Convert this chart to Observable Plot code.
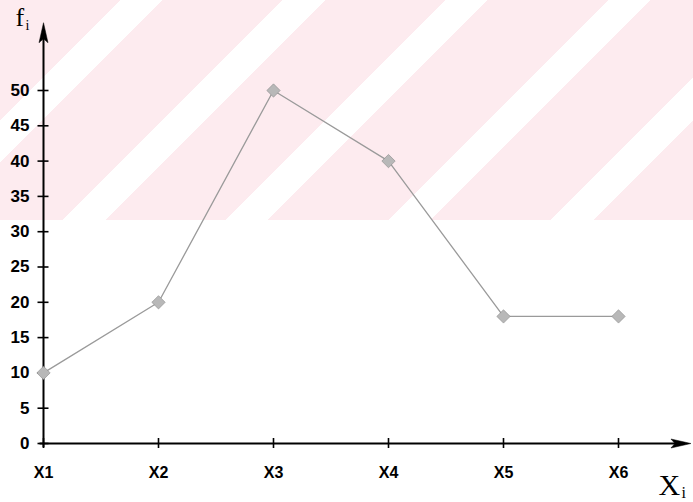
<!DOCTYPE html>
<html>
<head>
<meta charset="utf-8">
<script src="https://cdn.jsdelivr.net/npm/d3@7"></script>
<script src="https://cdn.jsdelivr.net/npm/@observablehq/plot@0.6"></script>
<style>
  html, body { margin: 0; padding: 0; background: #fff; }
  #wrap { position: relative; width: 693px; height: 502px; overflow: hidden; }
  #wm { position: absolute; left: 0; top: 0; width: 693px; height: 220px;
        background: repeating-linear-gradient(135deg, #fdebef 0 85px, #ffffff 85px 115px); }
  #chart { position: absolute; left: 0; top: 0; }
</style>
</head>
<body>
<div id="wrap"><div id="wm"></div><div id="chart"></div></div>
<script>
// Data
const categories = ["X1", "X2", "X3", "X4", "X5", "X6"];
const frequencies = [10, 20, 50, 40, 18, 18];
const yTicks = [0, 5, 10, 15, 20, 25, 30, 35, 40, 45, 50];

const data = categories.map((c, k) => ({i: k + 1, label: c, f: frequencies[k]}));

// axis extents (decoration: arrows beyond last tick)
const yAxisEnd = 59.6;
const xAxisEnd = 6.63;

const arrowHead = {
  draw(context) {
    context.moveTo(0, 0);
    context.lineTo(4.5, 20);
    context.lineTo(0, 16);
    context.lineTo(-4.5, 20);
    context.closePath();
  }
};

const chart = Plot.plot({
  width: 693,
  height: 502,
  marginLeft: 43,
  marginRight: 75,
  marginTop: 90,
  marginBottom: 59,
  style: {background: "transparent", overflow: "visible"},
  x: {domain: [1, 6], axis: null},
  y: {domain: [0, 50], axis: null},
  marks: [
    // axis lines
    Plot.ruleX([1], {y1: -0.6, y2: yAxisEnd - 1, stroke: "black", strokeWidth: 2}),
    Plot.ruleY([0], {x1: 0.97, x2: xAxisEnd - 0.05, stroke: "black", strokeWidth: 2}),
    Plot.dot([{x: 1, y: yAxisEnd}], {x: "x", y: "y", symbol: arrowHead, fill: "black", stroke: "black", strokeWidth: 0.5, r: 5}),
    Plot.dot([{x: xAxisEnd, y: 0}], {x: "x", y: "y", symbol: arrowHead, fill: "black", stroke: "black", strokeWidth: 0.5, r: 5, rotate: 90}),
    // y axis ticks crossing the axis line
    Plot.axisY({
      ticks: yTicks, tickSize: 11, dx: 5.5, tickPadding: 8.5,
      tickFormat: d => String(d), stroke: "black", strokeWidth: 1.6,
      fontFamily: "Liberation Sans, Arial, sans-serif", fontWeight: "bold", fontSize: 17, fill: "black"
    }),
    // x axis ticks crossing the axis line
    Plot.axisX({
      ticks: data.map(d => d.i), tickSize: 10, dy: -5, tickPadding: 18,
      tickFormat: d => categories[d - 1], stroke: "black", strokeWidth: 1.6,
      fontFamily: "Liberation Sans, Arial, sans-serif", fontWeight: "bold", fontSize: 16, fill: "black"
    }),
    // polygon
    Plot.line(data, {x: "i", y: "f", stroke: "#9a9a9a", strokeWidth: 1.3}),
    Plot.dot(data, {x: "i", y: "f", symbol: "diamond2", r: 6, fill: "#b8b8b8", stroke: "#8a8a8a", strokeWidth: 0.6}),
    // axis titles
    Plot.text(["f"], {frameAnchor: "top-left", dx: -28, dy: -73, textAnchor: "start", lineAnchor: "middle",
      fontFamily: "Liberation Serif, Times New Roman, serif", fontSize: 26, fill: "black"}),
    Plot.text(["i"], {frameAnchor: "top-left", dx: -18, dy: -65, textAnchor: "start", lineAnchor: "middle",
      fontFamily: "Liberation Serif, Times New Roman, serif", fontSize: 14, fill: "black"}),
    Plot.text(["X"], {frameAnchor: "bottom-right", dx: 40, dy: 42, textAnchor: "start", lineAnchor: "middle",
      fontFamily: "Liberation Serif, Times New Roman, serif", fontSize: 30, fill: "black"}),
    Plot.text(["i"], {frameAnchor: "bottom-right", dx: 63, dy: 49, textAnchor: "start", lineAnchor: "middle",
      fontFamily: "Liberation Serif, Times New Roman, serif", fontSize: 16, fill: "black"})
  ]
});
document.getElementById("chart").append(chart);
</script>
</body>
</html>
